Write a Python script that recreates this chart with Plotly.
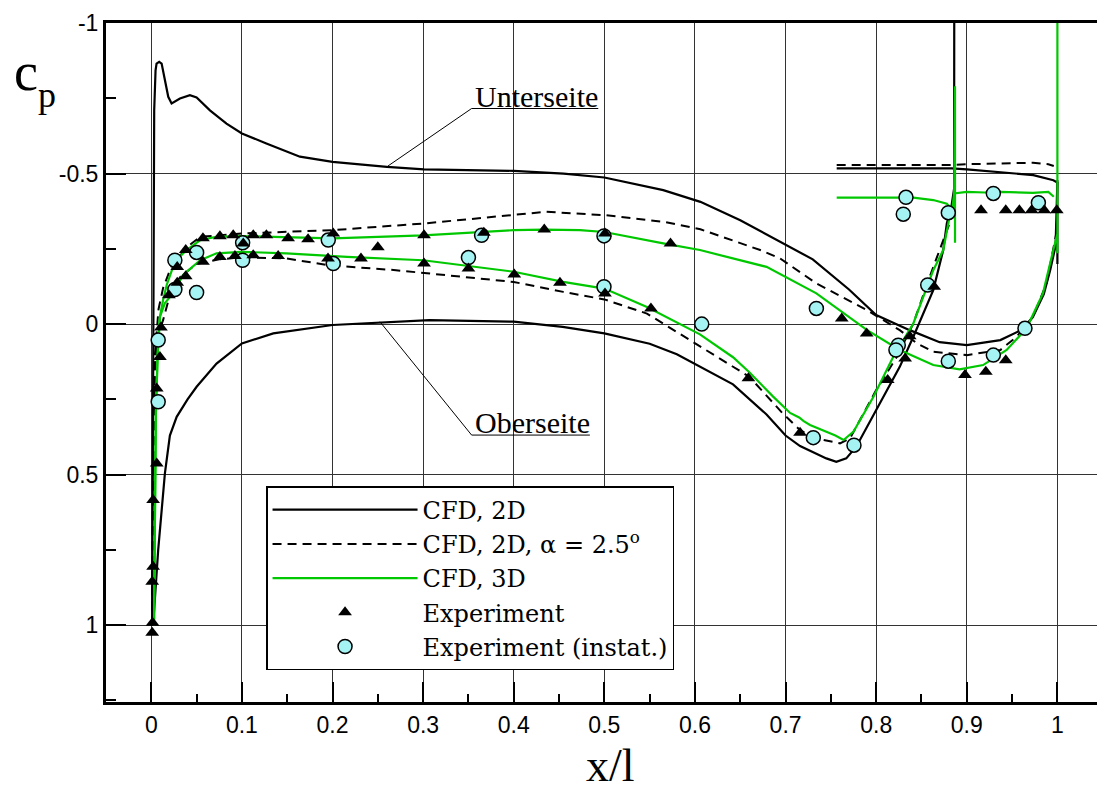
import plotly.graph_objects as go

# ---------------- data ----------------
# CFD, 2D (solid black)
cfd2d_upper_x = [0.001, 0.0015, 0.002, 0.0021, 0.0032, 0.0047, 0.0058, 0.0087, 0.0114, 0.0187, 0.0224,
                 0.0316, 0.0426, 0.05, 0.0647, 0.083, 0.1, 0.127, 0.164, 0.2, 0.26, 0.301, 0.4, 0.455,
                 0.5, 0.565, 0.606, 0.65, 0.70, 0.73, 0.77, 0.80, 0.837, 0.87, 0.9, 0.937, 0.96, 0.973,
                 0.985, 0.992, 0.998, 1.0]
cfd2d_upper_cp = [1.0, 0.5, -0.1, -0.378, -0.71, -0.843, -0.865, -0.871, -0.865, -0.755, -0.733,
                  -0.749, -0.760, -0.753, -0.71, -0.666, -0.633, -0.60, -0.556, -0.539, -0.522, -0.514,
                  -0.509, -0.500, -0.487, -0.445, -0.406, -0.345, -0.265, -0.215, -0.115, -0.03, 0.02,
                  0.06, 0.07, 0.053, 0.02, -0.024, -0.10, -0.179, -0.26, -0.478]
cfd2d_lower_x = [0.002, 0.0076, 0.015, 0.0205, 0.028, 0.04, 0.05, 0.072, 0.1, 0.1346, 0.2, 0.307, 0.4,
                 0.454, 0.5, 0.55, 0.58, 0.6055, 0.642, 0.679, 0.70, 0.716, 0.745, 0.756, 0.767, 0.778,
                 0.80, 0.826, 0.841, 0.863, 0.874, 0.878, 0.883, 0.886, 0.8862]
cfd2d_lower_cp = [1.0, 0.75, 0.496, 0.37, 0.308, 0.25, 0.208, 0.131, 0.064, 0.031, 0.003, -0.013,
                  -0.008, 0.009, 0.031, 0.065, 0.10, 0.142, 0.20, 0.30, 0.37, 0.405, 0.446, 0.457,
                  0.446, 0.407, 0.286, 0.142, 0.042, -0.113, -0.246, -0.335, -0.39, -0.45, -1.2]
cfd2d_flap_x = [0.7564, 0.8833, 0.9, 0.94, 0.9734, 0.9955, 1.0, 1.0]
cfd2d_flap_cp = [-0.517, -0.517, -0.514, -0.505, -0.495, -0.478, -0.47, -0.2]

# CFD, 2D, alpha = 2.5 deg (dashed black)
cfd25_upper_x = [0.001, 0.002, 0.004, 0.008, 0.013, 0.022, 0.039, 0.054, 0.1, 0.2, 0.3, 0.4, 0.436,
                 0.5, 0.565, 0.606, 0.672, 0.694, 0.734, 0.79, 0.826, 0.845, 0.863, 0.9, 0.937,
                 0.955, 0.973, 0.988, 0.9956, 1.0]
cfd25_upper_cp = [1.0, 0.5, 0.1, -0.05, -0.12, -0.19, -0.255, -0.29, -0.301, -0.312, -0.334, -0.362,
                  -0.373, -0.362, -0.34, -0.315, -0.246, -0.218, -0.135, -0.046, 0.02, 0.064, 0.092,
                  0.103, 0.086, 0.042, -0.024, -0.135, -0.246, -0.32]
cfd25_lower_x = [0.001, 0.002, 0.004, 0.008, 0.013, 0.022, 0.032, 0.05, 0.075, 0.1, 0.149, 0.197,
                 0.27, 0.344, 0.4, 0.4546, 0.5, 0.547, 0.583, 0.6055, 0.66, 0.697, 0.716, 0.734,
                 0.76, 0.771, 0.80, 0.823, 0.841, 0.859, 0.870, 0.881, 0.886]
cfd25_lower_cp = [1.0, 0.5, 0.15, 0.03, -0.013, -0.113, -0.157, -0.2, -0.215, -0.222, -0.218, -0.195,
                  -0.179, -0.157, -0.14, -0.107, -0.082, -0.035, 0.031, 0.075, 0.175, 0.297, 0.352,
                  0.38, 0.396, 0.38, 0.219, 0.108, -0.002, -0.157, -0.246, -0.335, -0.42]
cfd25_flap_x = [0.7564, 0.883, 0.9, 0.973, 0.99, 0.996]
cfd25_flap_cp = [-0.528, -0.528, -0.531, -0.536, -0.531, -0.525]

# CFD, 3D (green)
cfd3d_upper_x = [0.003, 0.004, 0.005, 0.007, 0.0095, 0.013, 0.017, 0.024, 0.03, 0.039, 0.054, 0.072,
                 0.1, 0.2, 0.3, 0.4, 0.433, 0.473, 0.5, 0.565, 0.6055, 0.679, 0.734, 0.79, 0.826,
                 0.863, 0.892, 0.918, 0.944, 0.966, 0.984, 0.9955, 1.0, 1.0, 1.0]
cfd3d_upper_cp = [1.0, 0.6, 0.3, 0.1, -0.024, -0.08, -0.13, -0.19, -0.22, -0.246, -0.279, -0.29,
                  -0.292, -0.285, -0.295, -0.312, -0.314, -0.312, -0.306, -0.268, -0.246, -0.19,
                  -0.102, 0.02, 0.086, 0.136, 0.15, 0.136, 0.086, 0.014, -0.102, -0.246, -0.3,
                  -1.2, -0.235]
cfd3d_lower_x = [0.003, 0.004, 0.005, 0.007, 0.0095, 0.015, 0.024, 0.035, 0.054, 0.072, 0.1, 0.149,
                 0.216, 0.3, 0.4, 0.4546, 0.5, 0.547, 0.583, 0.6055, 0.642, 0.66, 0.686, 0.705,
                 0.715, 0.72, 0.727, 0.735, 0.745, 0.755, 0.764, 0.775, 0.797, 0.819, 0.841, 0.863,
                 0.874, 0.881, 0.886, 0.887, 0.887]
cfd3d_lower_cp = [1.0, 0.6, 0.3, 0.1, -0.024, -0.07, -0.102, -0.163, -0.212, -0.235, -0.24, -0.235,
                  -0.223, -0.212, -0.174, -0.14, -0.118, -0.057, -0.002, 0.034, 0.11, 0.16, 0.24,
                  0.295, 0.31, 0.322, 0.335, 0.345, 0.355, 0.37, 0.385, 0.357, 0.241, 0.108, -0.002,
                  -0.179, -0.246, -0.356, -0.40, -0.79, -0.27]
cfd3d_flap_x = [0.7564, 0.841, 0.863, 0.878, 0.884, 0.886, 0.9, 0.92, 0.937, 0.973, 0.99, 0.996]
cfd3d_flap_cp = [-0.42, -0.42, -0.412, -0.40, -0.38, -0.434, -0.439, -0.437, -0.439, -0.436, -0.439,
                 -0.423]

# Experiment (triangles)
exp_x = [0.006, 0.002, 0.002, 0.001, 0.0014, 0.001, 0.006, 0.0095, 0.0106, 0.0194, 0.0286, 0.038,
         0.0286, 0.038, 0.057, 0.057, 0.0757, 0.0757, 0.0904, 0.0923, 0.1015, 0.1125, 0.1125,
         0.127, 0.14, 0.151, 0.173, 0.195, 0.2008, 0.25, 0.2314, 0.301, 0.301, 0.35, 0.367,
         0.4006, 0.4337, 0.451, 0.5007, 0.5007, 0.5514, 0.573, 0.659, 0.762, 0.7895, 0.716,
         0.8127, 0.832, 0.837, 0.864, 0.898, 0.921, 0.943, 0.9157, 0.943, 0.958, 0.9716, 0.9855,
         0.9993]
exp_cp = [0.463, 0.584, 0.806, 0.856, 0.992, 1.025, 0.214, 0.109, 0.011, -0.096, -0.137, -0.159,
          -0.19, -0.246, -0.285, -0.207, -0.292, -0.223, -0.295, -0.226, -0.268, -0.295, -0.229,
          -0.295, -0.226, -0.285, -0.282, -0.218, -0.301, -0.255, -0.218, -0.295, -0.201, -0.185,
          -0.303, -0.165, -0.314, -0.137, -0.301, -0.102, -0.052, -0.268, 0.18, -0.019, 0.031,
          0.361, 0.186, 0.114, 0.04, -0.124, 0.169, 0.158, 0.12, -0.378, -0.378, -0.378, -0.378,
          -0.378, -0.378]

# Experiment (instat.) (circles)
inst_x = [0.026, 0.05, 0.026, 0.05, 0.0076, 0.0076, 0.1008, 0.1008, 0.1953, 0.2008, 0.3645, 0.35,
          0.4996, 0.4996, 0.6075, 0.734, 0.7306, 0.7755, 0.8244, 0.8218, 0.8569, 0.8796, 0.9293,
          0.9642, 0.8329, 0.8299, 0.8796, 0.9293, 0.979]
inst_cp = [-0.212, -0.238, -0.115, -0.105, 0.053, 0.258, -0.27, -0.212, -0.279, -0.201, -0.295,
           -0.221, -0.293, -0.124, 0.0, -0.052, 0.377, 0.402, 0.07, 0.086, -0.13, 0.123, 0.103,
           0.014, -0.421, -0.365, -0.37, -0.434, -0.403]

x_tickvals = [0, 0.1, 0.2, 0.3, 0.4, 0.5, 0.6, 0.7, 0.8, 0.9, 1.0]
x_ticktext = ["0", "0.1", "0.2", "0.3", "0.4", "0.5", "0.6", "0.7", "0.8", "0.9", "1"]
y_tickvals = [-1, -0.5, 0, 0.5, 1]
y_ticktext = ["-1", "-0.5", "0", "0.5", "1"]

# side labels: text, point on curve (x, cp), underline start x, underline cp, underline end x
side_labels = [
    ("Unterseite", 0.2597, -0.522, 0.3535, -0.716, 0.4933),
    ("Oberseite", 0.2523, -0.008, 0.3535, 0.3685, 0.484),
]


def join(*segs):
    xs, ys = [], []
    for sx, sy in segs:
        if xs:
            xs.append(None)
            ys.append(None)
        xs += list(sx)
        ys += list(sy)
    return xs, ys


SERIF = "Liberation Serif"
LEGSERIF = "DejaVu Serif"
SANS = "Liberation Sans"
GREEN = "#00c800"

fig = go.Figure()

x, y = join((cfd2d_upper_x, cfd2d_upper_cp), (cfd2d_lower_x, cfd2d_lower_cp), (cfd2d_flap_x, cfd2d_flap_cp))
fig.add_trace(go.Scatter(x=x, y=y, mode="lines", name="CFD, 2D", legendrank=1,
                         line=dict(color="black", width=2.2)))
x, y = join((cfd25_upper_x, cfd25_upper_cp), (cfd25_lower_x, cfd25_lower_cp), (cfd25_flap_x, cfd25_flap_cp))
fig.add_trace(go.Scatter(x=x, y=y, mode="lines", name="CFD, 2D, α = 2.5<sup>o</sup>", legendrank=2,
                         line=dict(color="black", width=2, dash="9px,6px")))
x, y = join((cfd3d_upper_x, cfd3d_upper_cp), (cfd3d_lower_x, cfd3d_lower_cp), (cfd3d_flap_x, cfd3d_flap_cp))
fig.add_trace(go.Scatter(x=x, y=y, mode="lines", name="CFD, 3D", legendrank=3,
                         line=dict(color=GREEN, width=2.2)))
fig.add_trace(go.Scatter(x=inst_x, y=inst_cp, mode="markers", name="Experiment (instat.)", legendrank=5,
                         marker=dict(symbol="circle", size=14, color="#a6f3f3",
                                     line=dict(color="black", width=1.5))))
fig.add_trace(go.Scatter(x=exp_x, y=exp_cp, mode="markers", name="Experiment", legendrank=4,
                         marker=dict(symbol="triangle-up", size=12, color="black",
                                     line=dict(color="black", width=0))))

shapes = []
annotations = []
for text, cx, cy, ux, uy, ex in side_labels:
    shapes.append(dict(type="path", xref="x", yref="y",
                       path=f"M {cx},{cy} L {ux},{uy} L {ex},{uy}",
                       line=dict(color="black", width=1)))
    annotations.append(dict(x=ux, y=uy, xref="x", yref="y", text=text, showarrow=False,
                            xanchor="left", yanchor="bottom", xshift=1, yshift=-6,
                            font=dict(family=SERIF, size=30, color="black")))

annotations.append(dict(x=-0.0949, y=0.928, xref="paper", yref="paper", text="c",
                        showarrow=False, xanchor="left", yanchor="middle",
                        font=dict(family=SERIF, size=54, color="black")))
annotations.append(dict(x=-0.0706, y=0.894, xref="paper", yref="paper", text="p",
                        showarrow=False, xanchor="left", yanchor="middle",
                        font=dict(family=SERIF, size=36, color="black")))
annotations.append(dict(x=0.5086, y=-0.1322, xref="paper", yref="paper", text="x/l",
                        showarrow=False, xanchor="center", yanchor="bottom", borderpad=0,
                        font=dict(family=SERIF, size=46, color="black")))

fig.update_layout(
    width=1097, height=792,
    margin=dict(l=106, r=0, t=23, b=90),
    paper_bgcolor="white", plot_bgcolor="white",
    showlegend=True,
    legend=dict(x=0.1615, y=0.318, xanchor="left", yanchor="top",
                bgcolor="white", bordercolor="black", borderwidth=1.5,
                font=dict(family=LEGSERIF, size=24, color="black"),
                itemwidth=145, tracegroupgap=0),
    shapes=shapes, annotations=annotations,
    xaxis=dict(range=[-0.05, 1.0437], tickvals=x_tickvals, ticktext=x_ticktext,
               ticks="inside", ticklen=20, tickwidth=2, tickcolor="black",
               showline=True, linewidth=3, linecolor="black", mirror=True,
               showgrid=True, gridcolor="#333333", gridwidth=1, zeroline=False,
               tickfont=dict(family=SANS, size=23, color="black"),
               minor=dict(dtick=0.05, tick0=0, ticks="inside", ticklen=8, tickwidth=1.5,
                          tickcolor="black", showgrid=False)),
    yaxis=dict(range=[1.255, -1], tickvals=y_tickvals, ticktext=y_ticktext,
               ticks="inside", ticklen=20, tickwidth=2, tickcolor="black",
               showline=True, linewidth=3, linecolor="black", mirror=False,
               showgrid=True, gridcolor="#333333", gridwidth=1, zeroline=False,
               tickfont=dict(family=SANS, size=23, color="black"),
               minor=dict(dtick=0.25, tick0=0, ticks="inside", ticklen=10, tickwidth=1.5,
                          tickcolor="black", showgrid=False)),
)

fig.write_html("out.html", config={"displayModeBar": False},
               post_script="document.body.style.margin='0px';document.body.style.padding='0px';")
